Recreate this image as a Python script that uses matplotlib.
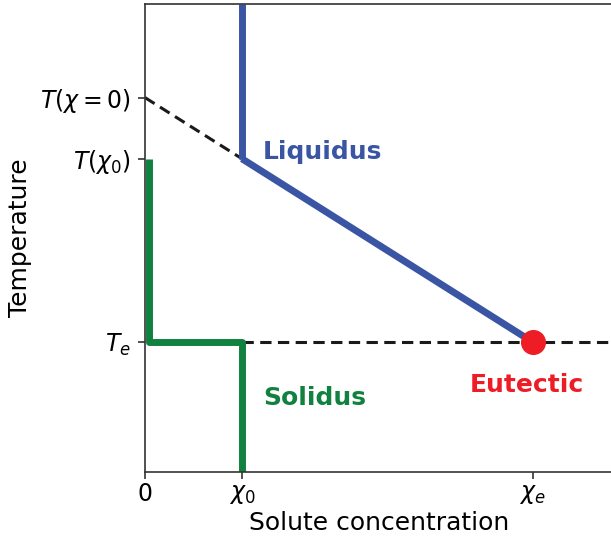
import numpy as np
import matplotlib
matplotlib.use('Agg')
import matplotlib.pyplot as plt

# === DATA ===
chi_0 = 1.0            # initial solute concentration
chi_e = 4.0            # eutectic concentration
T_e = 1.0              # eutectic temperature
T_chi0 = 2.41          # liquidus temperature at chi_0
T_pure = 2.88          # liquidus temperature at chi = 0
T_top = 3.6
x_max = 4.83

liq_x = [chi_0, chi_e]
liq_T = [T_chi0, T_e]
liq_vert_x = [chi_0, chi_0]
liq_vert_T = [T_chi0, T_top]
ext_x = [0.0, chi_0]
ext_T = [T_pure, T_chi0]
eut_dash_x = [chi_0, x_max]
eut_dash_T = [T_e, T_e]
sol_x = [0.04, 0.04, chi_0, chi_0]
sol_T = [T_chi0, T_e, T_e, 0.0]

xticks = [0, chi_0, chi_e]
xticklabels = ['0', r'$\chi_0$', r'$\chi_e$']
yticks = [T_e, T_chi0, T_pure]
yticklabels = [r'$T_e$', r'$T(\chi_0)$', r'$T(\chi = 0)$']

blue = '#3a55a4'
green = '#11813f'
red = '#ee1d25'

fig = plt.figure(figsize=(6.11, 5.43), dpi=100)
ax = fig.add_axes([145 / 611, 71 / 543, 468 / 611, 468 / 543])

ax.plot(ext_x, ext_T, '--', color='#1a1a1a', lw=2.2, dashes=(3.7, 2.1))
ax.plot(eut_dash_x, eut_dash_T, '--', color='#1a1a1a', lw=2.2, dashes=(3.7, 2.1))
ax.plot(liq_x, liq_T, color=blue, lw=5, solid_capstyle='butt')
ax.plot(liq_vert_x, liq_vert_T, color=blue, lw=5, solid_capstyle='butt')
ax.plot(sol_x, sol_T, color=green, lw=5, solid_capstyle='butt')
ax.plot([chi_e], [T_e], 'o', color=red, ms=17)

ax.text(1.22, 2.46, 'Liquidus', color=blue, fontsize=18, fontweight='bold', va='center')
ax.text(1.22, 0.57, 'Solidus', color=green, fontsize=18, fontweight='bold', va='center')
ax.text(3.94, 0.67, 'Eutectic', color=red, fontsize=18, fontweight='bold', va='center', ha='center')

ax.set_xlim(0, x_max)
ax.set_ylim(0, T_top)
ax.set_xticks(xticks)
ax.set_xticklabels(xticklabels, fontsize=17)
ax.set_yticks(yticks)
ax.set_yticklabels(yticklabels, fontsize=17)
ax.tick_params(length=5, width=1.2, color='#333333', pad=5)
ax.tick_params(axis='x', pad=2)
ax.set_xlabel('Solute concentration', fontsize=18, labelpad=4)
ax.set_ylabel('Temperature', fontsize=18, labelpad=6)
for s in ax.spines.values():
    s.set_color('#333333')
    s.set_linewidth(1.2)

fig.savefig('out.png', dpi=100)
